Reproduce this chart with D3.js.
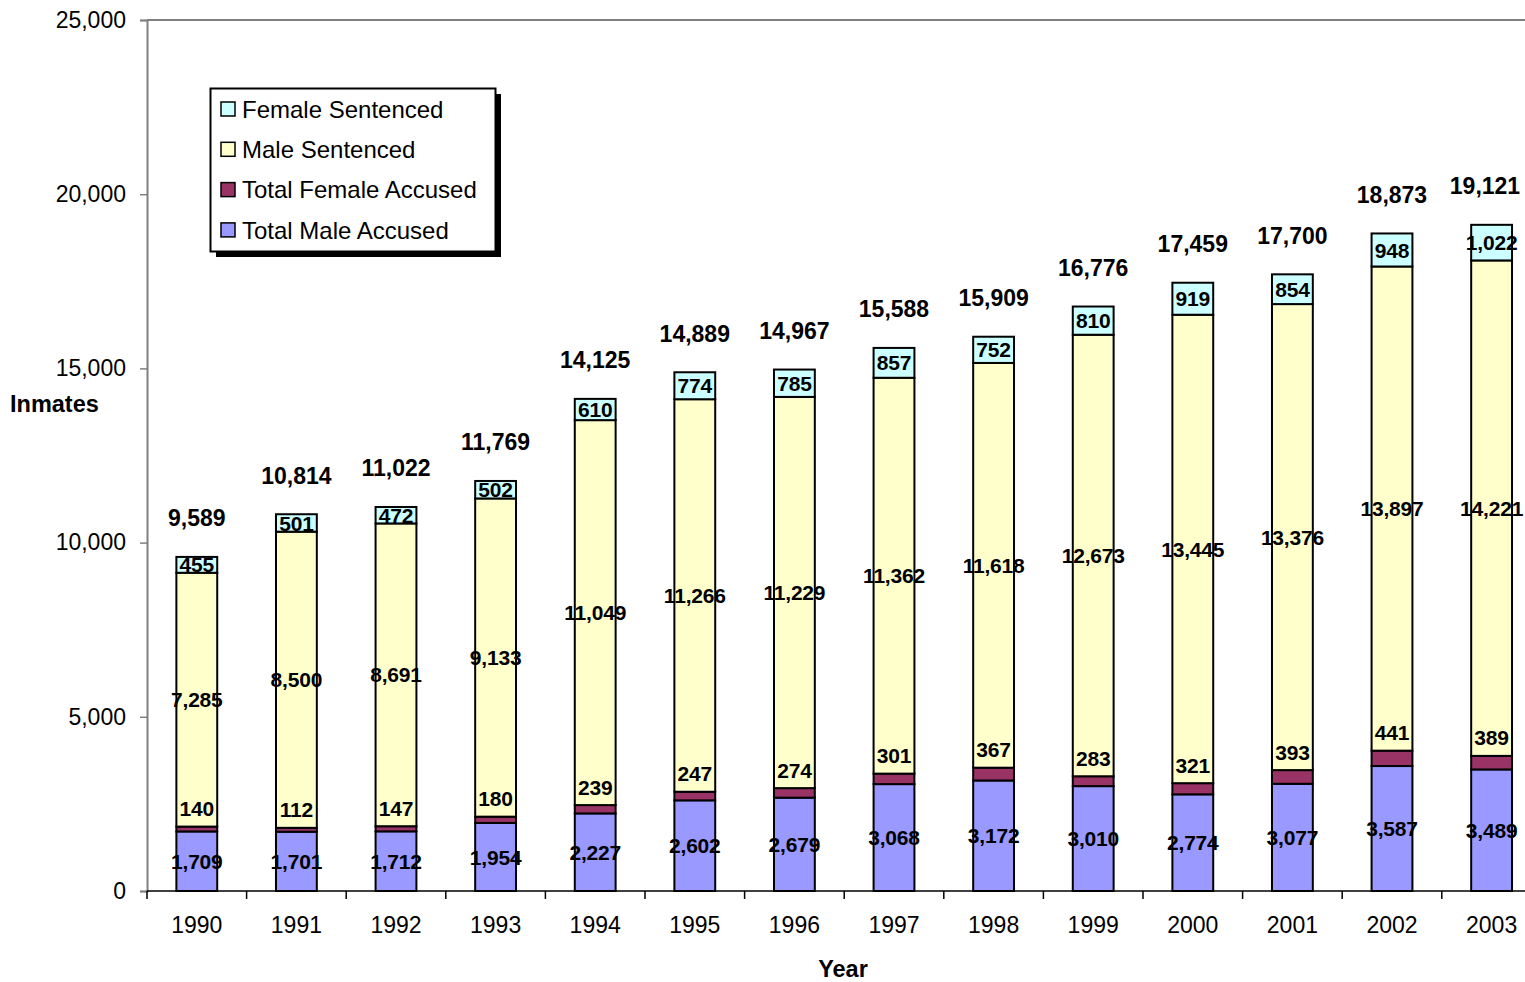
<!DOCTYPE html>
<html>
<head>
<meta charset="utf-8">
<script src="https://cdn.jsdelivr.net/npm/d3@7"></script>
<style>
  body { margin: 0; background: #fff; }
  text { font-family: Arial, "Liberation Sans", sans-serif; }
</style>
</head>
<body>
<div class="holder"></div>
<script>
// data
var years = ['1990','1991','1992','1993','1994','1995','1996','1997','1998','1999','2000','2001','2002','2003']
var maleAccused = [1709,1701,1712,1954,2227,2602,2679,3068,3172,3010,2774,3077,3587,3489]
var femaleAccused = [140,112,147,180,239,247,274,301,367,283,321,393,441,389]
var maleSentenced = [7285,8500,8691,9133,11049,11266,11229,11362,11618,12673,13445,13376,13897,14221]
var femaleSentenced = [455,501,472,502,610,774,785,857,752,810,919,854,948,1022]
var yTicks = [0,5000,10000,15000,20000,25000]

var seriesNames = ['Total Male Accused','Total Female Accused','Male Sentenced','Female Sentenced']
var seriesValues = [maleAccused, femaleAccused, maleSentenced, femaleSentenced]
var colors = ['#9999FF','#993366','#FFFFCC','#CCFFFF']

var width = 1525, height = 982
var plotLeft = 147, plotTop = 20, plotBottom = 891

var svg = d3.select('.holder')
  .append('svg')
  .attr('width', width)
  .attr('height', height)

var xScale = d3.scaleBand()
  .domain(years)
  .range([plotLeft, plotLeft + 14 * 99.6])
  .paddingInner(0.59)
  .paddingOuter(0.295)

var yScale = d3.scaleLinear()
  .domain([0, 25000])
  .range([plotBottom, plotTop])

// top border line
svg.append('line')
  .attr('x1', plotLeft).attr('x2', width)
  .attr('y1', yScale(25000)).attr('y2', yScale(25000))
  .attr('stroke', '#808080').attr('stroke-width', 2)

// y axis
var yAxis = svg.append('g')
  .attr('transform', 'translate(' + plotLeft + ',0)')
  .call(d3.axisLeft(yScale).tickValues(yTicks).tickSize(7).tickPadding(14).tickFormat(d3.format(',')))
yAxis.select('.domain').attr('stroke', '#808080').attr('stroke-width', 2)
yAxis.selectAll('.tick line').attr('stroke', '#808080').attr('stroke-width', 1.5)
yAxis.selectAll('.tick text').style('font-size', '23px').attr('fill', '#000')

// stacked table
var table = years.map(function(y, i) {
  var row = { year: y }
  seriesNames.forEach(function(s, j) { row[s] = seriesValues[j][i] })
  return row
})
var stacked = d3.stack().keys(seriesNames)(table)

var groups = svg.selectAll('.series')
  .data(stacked)
  .enter()
  .append('g')
  .attr('class', 'series')
  .attr('fill', function(d, i) { return colors[i] })

groups.selectAll('rect')
  .data(function(d) { return d })
  .enter()
  .append('rect')
  .attr('x', function(d) { return xScale(d.data.year) })
  .attr('width', xScale.bandwidth())
  .attr('y', function(d) { return yScale(d[1]) })
  .attr('height', function(d) { return yScale(d[0]) - yScale(d[1]) })
  .attr('stroke', '#000')
  .attr('stroke-width', 2)

// x axis
var xAxis = svg.append('g')
  .attr('transform', 'translate(0,' + plotBottom + ')')
  .call(d3.axisBottom(xScale).tickSize(0).tickPadding(26))
xAxis.select('.domain').attr('stroke', '#000').attr('stroke-width', 1.5)
  .attr('d', 'M' + plotLeft + ',0H' + width)
xAxis.selectAll('.tick text').style('font-size', '23px').attr('fill', '#000')

var step = xScale.step()
svg.append('g').selectAll('line')
  .data(years)
  .enter()
  .append('line')
  .attr('x1', function(d, i) { return plotLeft + i * step })
  .attr('x2', function(d, i) { return plotLeft + i * step })
  .attr('y1', plotBottom)
  .attr('y2', plotBottom + 8)
  .attr('stroke', '#000')
  .attr('stroke-width', 1.5)

// segment labels
var fmt = d3.format(',')
stacked.forEach(function(layer, j) {
  svg.append('g').selectAll('text')
    .data(layer)
    .enter()
    .append('text')
    .attr('x', function(d) { return xScale(d.data.year) + xScale.bandwidth() / 2 })
    .attr('y', function(d) {
      if (j == 1) return yScale(d[1]) - 18
      return (yScale(d[0]) + yScale(d[1])) / 2
    })
    .attr('dy', '0.36em')
    .attr('text-anchor', 'middle')
    .style('font-size', '21px')
    .style('font-weight', 'bold')
    .style('letter-spacing', '-0.2px')
    .text(function(d) { return fmt(d[1] - d[0]) })
})

// totals above bars
svg.append('g').selectAll('text')
  .data(table)
  .enter()
  .append('text')
  .attr('x', function(d) { return Math.min(xScale(d.year) + xScale.bandwidth() / 2, width - 40) })
  .attr('y', function(d, i) { return yScale(d3.sum(seriesValues, function(s) { return s[i] })) - 39 })
  .attr('dy', '0.36em')
  .attr('text-anchor', 'middle')
  .style('font-size', '23px')
  .style('font-weight', 'bold')
  .text(function(d, i) { return fmt(d3.sum(seriesValues, function(s) { return s[i] })) })

// axis titles
svg.append('text')
  .attr('x', 10).attr('y', 404)
  .attr('dy', '0.36em')
  .style('font-size', '23.5px')
  .style('font-weight', 'bold')
  .text('Inmates')

svg.append('text')
  .attr('x', 843).attr('y', 969)
  .attr('dy', '0.36em')
  .attr('text-anchor', 'middle')
  .style('font-size', '23.5px')
  .style('font-weight', 'bold')
  .text('Year')

// legend
var legend = svg.append('g').attr('id', 'legend')
legend.append('rect')
  .attr('x', 216).attr('y', 94).attr('width', 285).attr('height', 163)
  .attr('fill', '#000')
legend.append('rect')
  .attr('x', 210.5).attr('y', 88.5).attr('width', 285).attr('height', 163)
  .attr('fill', '#fff').attr('stroke', '#000').attr('stroke-width', 2)

var legendOrder = [3, 2, 1, 0]
legendOrder.forEach(function(j, k) {
  var cy = 109 + k * 40.3
  legend.append('rect')
    .attr('x', 221).attr('y', cy - 7).attr('width', 14).attr('height', 14)
    .attr('fill', colors[j]).attr('stroke', '#000').attr('stroke-width', 1.5)
  legend.append('text')
    .attr('x', 242).attr('y', cy)
    .attr('dy', '0.36em')
    .style('font-size', '24px')
    .text(seriesNames[j])
})
</script>
</body>
</html>
